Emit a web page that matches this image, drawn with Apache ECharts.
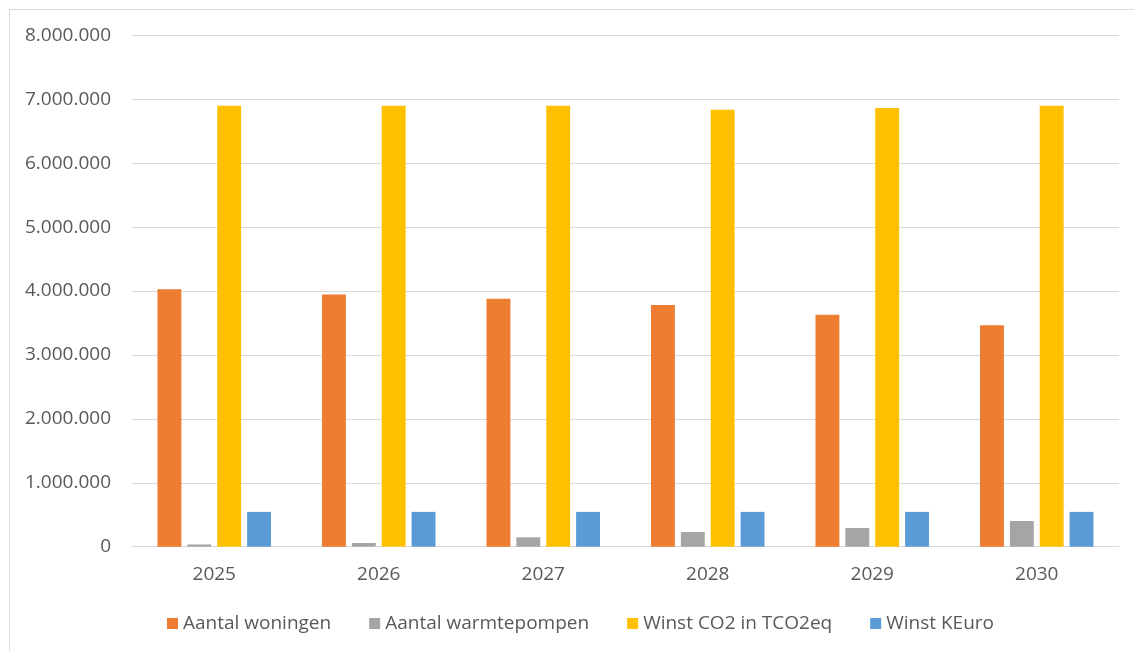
<!DOCTYPE html>
<html>
<head>
<meta charset="utf-8">
<title>Woningen en warmtepompen 2025-2030</title>
<script src="https://cdn.jsdelivr.net/npm/echarts@6/dist/echarts.min.js"></script>
<style>
  html, body { margin: 0; padding: 0; background: #ffffff; }
  #chart { width: 1134px; height: 651px; }
</style>
</head>
<body>
<div id="chart"></div>
<script>
// Years on the category axis
const years = ['2025', '2026', '2027', '2028', '2029', '2030'];

// Series values per year
const aantalWoningen     = [4030000, 3945000, 3880000, 3780000, 3630000, 3465000];
const aantalWarmtepompen = [35000, 58000, 147000, 230000, 293000, 402000];
const winstCO2           = [6900000, 6900000, 6900000, 6835000, 6865000, 6900000];
const winstKEuro         = [545000, 545000, 545000, 545000, 545000, 545000];

// Series names as shown in the legend
const seriesNames = ['Aantal woningen', 'Aantal warmtepompen', 'Winst CO2 in TCO2eq', 'Winst KEuro'];
const seriesColors = ['#ED7D31', '#A5A5A5', '#FFC000', '#5B9BD5'];
const seriesData = [aantalWoningen, aantalWarmtepompen, winstCO2, winstKEuro];

const FONT = '"Open Sans", "Noto Sans", sans-serif';
const TEXT_COLOR = '#595959';
const GRID_COLOR = '#d9d9d9';

// Dutch thousands separator: 1.000.000
function formatNL(v) {
  return String(Math.round(v)).replace(/\B(?=(\d{3})+(?!\d))/g, '.');
}

const chart = echarts.init(document.getElementById('chart'), null, { renderer: 'canvas' });

chart.setOption({
  animation: false,
  backgroundColor: '#ffffff',
  textStyle: { fontFamily: FONT },
  graphic: [{
    type: 'rect',
    shape: { x: 9.5, y: 9.5, width: 1140, height: 660 },
    style: { fill: 'none', stroke: GRID_COLOR, lineWidth: 1 },
    silent: true
  }],
  grid: { left: 132, right: 15, top: 35.4, bottom: 104.3, containLabel: false },
  legend: {
    left: 167,
    top: 614,
    padding: 0,
    itemWidth: 11,
    itemHeight: 11,
    itemGap: 38,
    icon: 'rect',
    textStyle: { color: TEXT_COLOR, fontSize: 19, fontFamily: FONT },
    data: seriesNames
  },
  xAxis: {
    type: 'category',
    data: years,
    axisLine: { show: true, lineStyle: { color: GRID_COLOR, width: 1 } },
    axisTick: { show: false },
    axisLabel: { color: TEXT_COLOR, fontSize: 19, fontFamily: FONT, margin: 18 }
  },
  yAxis: {
    type: 'value',
    min: 0,
    max: 8000000,
    interval: 1000000,
    axisLine: { show: false },
    axisTick: { show: false },
    splitLine: { lineStyle: { color: GRID_COLOR, width: 1 } },
    axisLabel: { color: TEXT_COLOR, fontSize: 19, fontFamily: FONT, margin: 21, formatter: formatNL }
  },
  series: seriesNames.map((name, i) => ({
    name: name,
    type: 'bar',
    data: seriesData[i],
    barGap: '25%',
    barCategoryGap: '31%',
    itemStyle: { color: seriesColors[i] }
  }))
});
</script>
</body>
</html>
